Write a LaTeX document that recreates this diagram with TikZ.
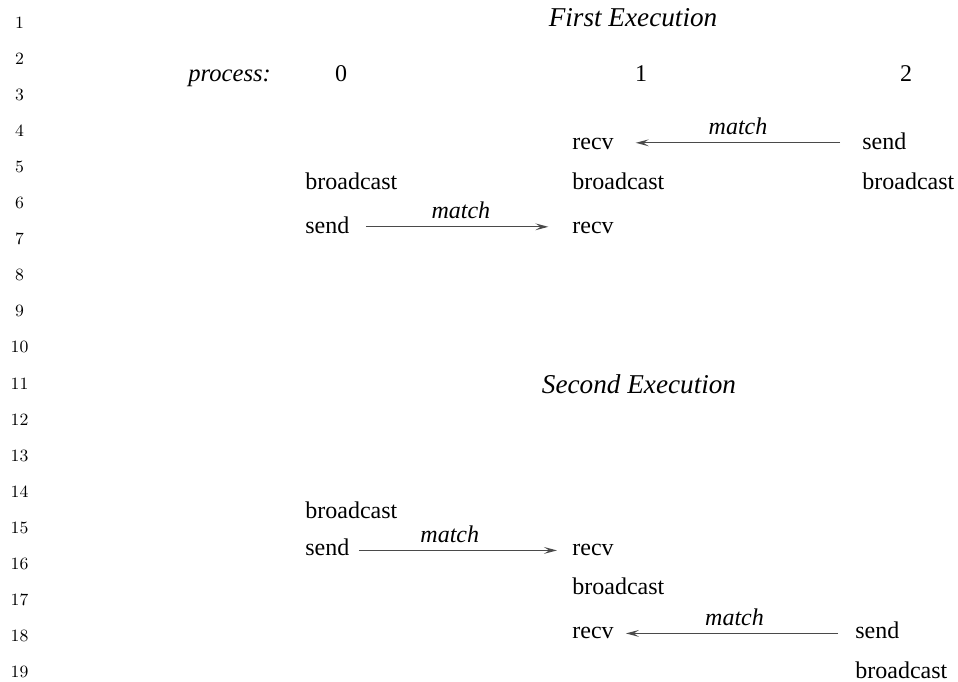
\documentclass[tikz,border=0pt]{standalone}
\usepackage{fontspec}
\setmainfont{Liberation Serif}
\newfontfamily\lmfont{Latin Modern Roman}
\usetikzlibrary{arrows.meta}
\definecolor{arrowgray}{HTML}{4A4A4A}
\begin{document}
\begin{tikzpicture}[x=0.5pt,y=-0.5pt,
  lnum/.style={anchor=base, inner sep=0pt, font=\lmfont\fontsize{8.6}{10}\selectfont},
  txt/.style={anchor=base west, inner sep=0pt, font=\fontsize{12}{14}\selectfont},
  digit/.style={anchor=base, inner sep=0pt, font=\fontsize{12}{14}\selectfont},
  ittxt/.style={anchor=base west, inner sep=0pt, font=\itshape\fontsize{12.3}{14}\selectfont},
  title/.style={anchor=base, inner sep=0pt, font=\itshape\fontsize{13.6}{16}\selectfont},
  arr/.style={draw=arrowgray, line width=0.65pt, -{Stealth[length=6.5pt,width=3.4pt,inset=2.6pt]}},
  lab/.style={anchor=base, inner sep=0pt, yshift=4pt, font=\itshape\fontsize{12}{14}\selectfont}]
\useasboundingbox (0,0) rectangle (958,681);
% line numbers
\foreach \i in {1,...,19}
  \node[lnum] (ln\i) at (19.5,{28+(\i-1)*36.1}) {\i};
% ---- First Execution
\node[title] (t1) at (633,26) {First Execution};
\node[ittxt] (proc) at (188,81) {process:};
\node[digit] (p0) at (341,81) {0};
\node[digit] (p1) at (641,81) {1};
\node[digit] (p2) at (906,81) {2};
\node[txt] (a1r) at (572,149) {recv};
\node[txt] (a2s) at (862,149) {send};
\node[txt] (a0b) at (305,189) {broadcast};
\node[txt] (a1b) at (572,189) {broadcast};
\node[txt] (a2b) at (862,189) {broadcast};
\node[txt] (a0s) at (305,233) {send};
\node[txt] (a1r2) at (572,233) {recv};
\draw[arr, shorten <=8pt, shorten >=11.8pt] ([yshift=0.8pt]a0s.mid east) -- node[lab] {match} ([yshift=0.8pt]a1r2.mid west);
\draw[arr, shorten <=11pt, shorten >=10.8pt] ([yshift=0.8pt]a2s.mid west) -- node[lab] {match} ([yshift=0.8pt]a1r.mid east);
% ---- Second Execution
\node[title] (t2) at (639,393) {Second Execution};
\node[txt] (b0b) at (305,518) {broadcast};
\node[txt] (b0s) at (305,555) {send};
\node[txt] (b1r) at (572,555) {recv};
\node[txt] (b1b) at (572,594) {broadcast};
\node[txt] (b1r2) at (572,638) {recv};
\node[txt] (b2s) at (855,638) {send};
\node[txt] (b2b) at (855,678) {broadcast};
\draw[arr, shorten <=4.5pt, shorten >=7.5pt] (b0s.mid east) -- node[lab, pos=0.45] {match} (b1r.mid west);
\draw[arr, shorten <=8.5pt, shorten >=5.9pt] (b2s.mid west) -- node[lab] {match} (b1r2.mid east);
\end{tikzpicture}
\end{document}
